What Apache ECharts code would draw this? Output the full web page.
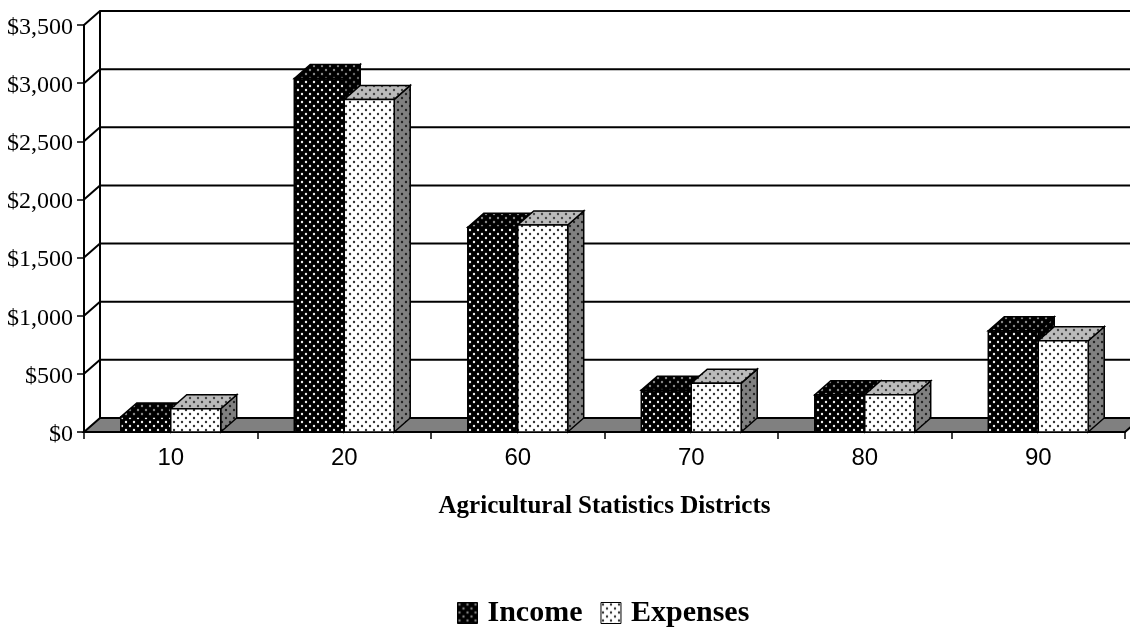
<!DOCTYPE html>
<html>
<head>
<meta charset="utf-8">
<style>html,body{margin:0;padding:0;background:#fff}#main{width:1130px;height:628px}</style>
<script src="https://cdn.jsdelivr.net/npm/echarts@6/dist/echarts.min.js"></script>
</head>
<body>
<div id="main"></div>
<script>
var categories = ['10', '20', '60', '70', '80', '90'];
var income = [130, 3040, 1760, 360, 320, 870];
var expenses = [200, 2860, 1780, 420, 320, 785];
var yTicks = [0, 500, 1000, 1500, 2000, 2500, 3000, 3500];
var yTickLabels = ['$0', '$500', '$1,000', '$1,500', '$2,000', '$2,500', '$3,000', '$3,500'];

var serif = '"Liberation Serif", serif';
var depthX = 16, depthY = 14;

// dotted fill, same idea as the old office chart hatch
function dots(bg, dot) {
	var c = document.createElement('canvas');
	c.width = 8; c.height = 8;
	var g = c.getContext('2d');
	g.fillStyle = bg;
	g.fillRect(0, 0, 8, 8);
	g.fillStyle = dot;
	g.beginPath(); g.arc(2, 2, 1.2, 0, Math.PI * 2); g.fill();
	g.beginPath(); g.arc(6, 6, 1.2, 0, Math.PI * 2); g.fill();
	return { image: c, repeat: 'repeat' };
}

var incomeFill = { front: dots('#000', '#eee'), top: dots('#000', '#888'), side: dots('#000', '#666') };
var expensesFill = { front: dots('#fff', '#333'), top: dots('#bbb', '#444'), side: dots('#808080', '#222') };

function barRenderer(fills, side) {
	return function (params, api) {
		var top = api.coord([api.value(0), api.value(1)]);
		var base = api.coord([api.value(0), 0]);
		var w = api.size([1, 0])[0] * 0.288;
		var x0 = side < 0 ? top[0] - w : top[0];
		var x1 = x0 + w;
		var line = { stroke: '#000', lineWidth: 1.5 };
		return {
			type: 'group',
			children: [
				{ type: 'polygon', shape: { points: [[x1, base[1]], [x1 + depthX, base[1] - depthY], [x1 + depthX, top[1] - depthY], [x1, top[1]]] }, style: Object.assign({ fill: fills.side }, line) },
				{ type: 'polygon', shape: { points: [[x0, top[1]], [x0 + depthX, top[1] - depthY], [x1 + depthX, top[1] - depthY], [x1, top[1]]] }, style: Object.assign({ fill: fills.top }, line) },
				{ type: 'rect', shape: { x: x0, y: top[1], width: w, height: base[1] - top[1] }, style: Object.assign({ fill: fills.front }, line) }
			]
		};
	};
}

function wallRenderer(params, api) {
	var cs = params.coordSys;
	var p = api.coord([0, api.value(1)]);
	var left = cs.x, right = cs.x + cs.width + depthX;
	var children = [];
	if (api.value(1) === 0) {
		children.push({
			type: 'polygon',
			shape: { points: [[left, p[1]], [left + depthX, p[1] - depthY], [right, p[1] - depthY], [right - depthX, p[1]]] },
			style: { fill: '#808080', stroke: '#000', lineWidth: 2 }
		});
	} else {
		children.push({
			type: 'polyline',
			shape: { points: [[left, p[1]], [left + depthX, p[1] - depthY], [right, p[1] - depthY]] },
			style: { fill: null, stroke: '#000', lineWidth: 2 }
		});
	}
	return { type: 'group', children: children };
}

function backEdge(params, api) {
	var cs = params.coordSys;
	var a = api.coord([0, 0]), b = api.coord([0, 3500]);
	return {
		type: 'line',
		shape: { x1: cs.x + depthX, y1: a[1] - depthY, x2: cs.x + depthX, y2: b[1] - depthY },
		style: { stroke: '#000', lineWidth: 2 }
	};
}

function pairs(values) {
	return values.map(function (v, i) { return [i, v]; });
}

var chart = echarts.init(document.getElementById('main'));
chart.setOption({
	animation: false,
	backgroundColor: '#fff',
	grid: { left: 84, right: 5, top: 25, bottom: 196, containLabel: false },
	legend: {
		left: 457,
		top: 598,
		padding: 0,
		itemWidth: 20,
		itemHeight: 21,
		itemGap: 18,
		textStyle: { fontFamily: serif, fontWeight: 'bold', fontSize: 30, color: '#000', padding: [0, 0, 0, 5] },
		data: [
			{ name: 'Income', icon: 'rect', itemStyle: { color: incomeFill.top, borderColor: '#000', borderWidth: 1 } },
			{ name: 'Expenses', icon: 'rect', itemStyle: { color: expensesFill.front, borderColor: '#000', borderWidth: 1 } }
		]
	},
	xAxis: {
		type: 'category',
		data: categories,
		name: 'Agricultural Statistics Districts',
		nameLocation: 'middle',
		nameGap: 62,
		nameTextStyle: { fontFamily: serif, fontWeight: 'bold', fontSize: 25, color: '#000' },
		axisLine: { show: true, lineStyle: { color: '#000', width: 2 } },
		axisTick: { show: true, alignWithLabel: false, length: 7, lineStyle: { color: '#000', width: 1.5 } },
		axisLabel: { fontFamily: '"Liberation Sans", sans-serif', fontSize: 24, color: '#000', margin: 14 }
	},
	yAxis: {
		type: 'value',
		min: 0,
		max: 3500,
		interval: 500,
		splitLine: { show: false },
		axisLine: { show: true, lineStyle: { color: '#000', width: 2 } },
		axisTick: { show: true, length: 7, lineStyle: { color: '#000', width: 1.5 } },
		axisLabel: {
			margin: 11,
			formatter: function (v) { return '{t|' + yTickLabels[yTicks.indexOf(v)] + '}'; },
			rich: { t: { fontFamily: serif, fontSize: 24, color: '#000', padding: [5, 0, 0, 0] } }
		}
	},
	series: [
		{ name: 'walls', type: 'custom', clip: false, silent: true, z: 1, renderItem: wallRenderer, data: pairs(yTicks) },
		{ name: 'backEdge', type: 'custom', clip: false, silent: true, z: 1, renderItem: backEdge, data: [[0, 0]] },
		{ name: 'Income', type: 'custom', clip: false, z: 2, itemStyle: { color: incomeFill.top }, renderItem: barRenderer(incomeFill, -1), data: pairs(income) },
		{ name: 'Expenses', type: 'custom', clip: false, z: 3, itemStyle: { color: expensesFill.front }, renderItem: barRenderer(expensesFill, 1), data: pairs(expenses) }
	]
});
</script>
</body>
</html>
